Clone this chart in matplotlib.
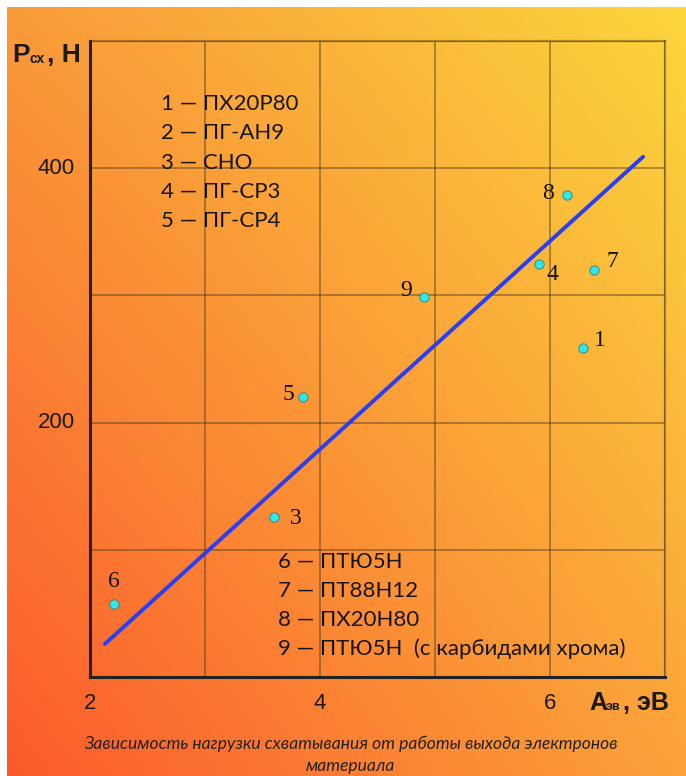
import numpy as np
import matplotlib
matplotlib.use("Agg")
import matplotlib.pyplot as plt
from matplotlib.colors import to_rgb

W, H = 686, 776

# ---- data ----
point_ids = ["1", "3", "4", "5", "6", "7", "8", "9"]
point_x = [6.29, 3.60, 5.90, 3.85, 2.21, 6.38, 6.15, 4.90]
point_y = [259, 126, 325, 220, 57, 320, 379, 299]

line_x = [2.13, 6.81]
line_y = [26, 409]

legend_top = ["1 — ПХ20Р80", "2 — ПГ-АН9", "3 — СНО", "4 — ПГ-СР3", "5 — ПГ-СР4"]
legend_bottom = ["6 — ПТЮ5Н", "7 — ПТ88Н12", "8 — ПХ20Н80",
                 "9 — ПТЮ5Н  (с карбидами хрома)"]

x_ticks = [2, 4, 6]
y_ticks = [200, 400]
caption = "Зависимость нагрузки схватывания от работы выхода электронов\nматериала"

# label offsets in pixels (dx, dy) for the point numbers
label_offsets = {"1": (17, 7), "3": (22, -2), "4": (14, -11), "5": (-14, 3),
                 "6": (0, 23), "7": (19, 8), "8": (-19, 1), "9": (-17, 6)}

fig = plt.figure(figsize=(W / 100, H / 100), dpi=100)
fig.patch.set_facecolor("white")


def px(x, y):
    return x / W, 1 - y / H


# ---- gradient background ----
bg = fig.add_axes([7 / W, 0, 1 - 7 / W, 1 - 7 / H], zorder=0)
tl, tr = np.array(to_rgb("#f99a3a")), np.array(to_rgb("#fcd63c"))
bl, br = np.array(to_rgb("#fc5a2c")), np.array(to_rgb("#fca23a"))
u = np.linspace(0, 1, 200)[None, :, None]
v = np.linspace(0, 1, 200)[:, None, None]
img = (1 - v) * ((1 - u) * tl + u * tr) + v * ((1 - u) * bl + u * br)
bg.imshow(img, aspect="auto", extent=[0, 1, 0, 1], origin="upper")
bg.axis("off")

# ---- main plot ----
ax = fig.add_axes([90 / W, 99 / H, 575 / W, 636 / H], zorder=1)
ax.patch.set_alpha(0)
ax.set_xlim(2, 7)
ax.set_ylim(0, 500)
ax.set_xticks(range(2, 8))
ax.set_yticks(range(0, 501, 100))
ax.set_xticklabels([])
ax.set_yticklabels([])
ax.tick_params(length=0)
ax.grid(True, color="#4a3a20", alpha=0.45, lw=1.4)
for s in ["top", "right"]:
    ax.spines[s].set_color("#4a3a20")
    ax.spines[s].set_alpha(0.45)
    ax.spines[s].set_linewidth(1.6)
for s in ["left", "bottom"]:
    ax.spines[s].set_color("#222222")
    ax.spines[s].set_linewidth(2.2)

ax.plot(line_x, line_y, color="#2a40f0", lw=2.8, solid_capstyle="round", zorder=3)
ax.scatter(point_x, point_y, s=45, color="#2ee8ea", edgecolor="#3a7a7a",
           linewidth=0.6, zorder=4)
for pid, x, y in zip(point_ids, point_x, point_y):
    dx, dy = label_offsets[pid]
    ax.annotate(pid, (x, y), xytext=(dx * 0.72, dy * 0.72), textcoords="offset points",
                ha="center", va="center", fontsize=17, family="Liberation Serif",
                color="#111111", zorder=5)

# tick labels
for t in x_ticks:
    ax.text(t, -20.5, str(t), ha="center", va="center", fontsize=16,
            family="Liberation Sans", color="#1a1a1a", clip_on=False)
for t in y_ticks:
    ax.text(1.87, t, str(t), ha="right", va="center", fontsize=16,
            family="Liberation Sans", color="#1a1a1a", clip_on=False)

# axis titles
fig.text(*px(12, 55), "P", fontsize=19, weight="bold", family="Liberation Sans",
         va="center", ha="left", color="#1a1a1a")
fig.text(*px(30, 59), "сх", fontsize=10, weight="bold", family="Liberation Sans",
         va="center", ha="left", color="#1a1a1a")
fig.text(*px(47, 55), ", Н", fontsize=19, weight="bold", family="Liberation Sans",
         va="center", ha="left", color="#1a1a1a")

fig.text(*px(589, 703), "А", fontsize=18, weight="bold", family="Liberation Sans",
         va="center", ha="left", color="#1a1a1a")
fig.text(*px(606, 707), "эв", fontsize=9, weight="bold", family="Liberation Sans",
         va="center", ha="left", color="#1a1a1a")
fig.text(*px(623, 703), ", эВ", fontsize=18, weight="bold", family="Liberation Sans",
         va="center", ha="left", color="#1a1a1a")

# legend blocks
for i, s in enumerate(legend_top):
    fig.text(*px(161, 104 + i * 29.3), s, fontsize=16, family="Lato",
             va="center", ha="left", color="#151515")
for i, s in enumerate(legend_bottom):
    fig.text(*px(278, 562 + i * 29), s, fontsize=16, family="Lato",
             va="center", ha="left", color="#151515")

# caption
fig.text(*px(351, 755), caption, fontsize=12.6, family="Lato", style="italic",
         va="center", ha="center", color="#222222", linespacing=1.45)

fig.savefig("out.png", dpi=100)
